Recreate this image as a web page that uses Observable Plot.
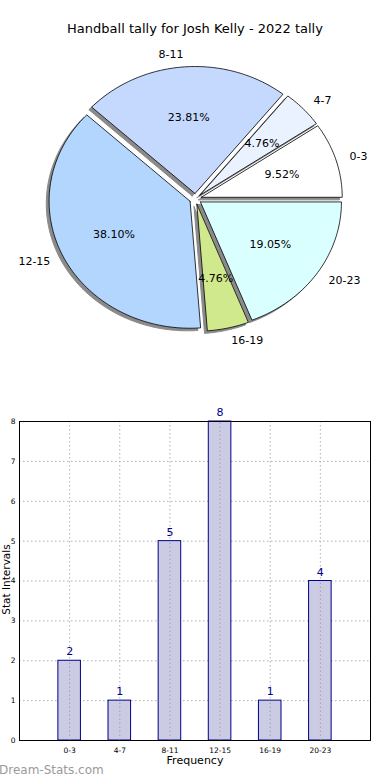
<!DOCTYPE html>
<html>
<head>
<meta charset="utf-8">
<script src="https://cdn.jsdelivr.net/npm/d3@7"></script>
<script src="https://cdn.jsdelivr.net/npm/@observablehq/plot@0.6"></script>
<style>
  html, body { margin: 0; padding: 0; background: #fff; }
  #wrap { position: relative; width: 390px; height: 780px; overflow: hidden; font-family: "DejaVu Sans", sans-serif; }
  .abs { position: absolute; }
  #title { top: 21px; left: 0; width: 390px; text-align: center; font-size: 13px; color: #000; }
  #ylab { left: -39px; top: 574px; width: 90px; line-height: 11px; text-align: center; font-size: 10.5px; transform: rotate(-90deg); white-space: nowrap; }
  #xlab { top: 754px; left: 0; width: 390px; text-align: center; font-size: 11px; }
  #wm { top: 763px; left: -1px; font-size: 12px; color: #9a9a9a; }
</style>
</head>
<body>
<div id="wrap">
  <div id="pie" class="abs" style="top:0;left:0"></div>
  <div id="bar" class="abs" style="top:380px;left:0"></div>
  <div id="title" class="abs">Handball tally for Josh Kelly - 2022 tally</div>
  <div id="ylab" class="abs">Stat Intervals</div>
  <div id="xlab" class="abs">Frequency</div>
  <div id="wm" class="abs">Dream-Stats.com</div>
</div>
<script>
const categories = ["0-3", "4-7", "8-11", "12-15", "16-19", "20-23"];
const counts = [2, 1, 5, 8, 1, 4];
const pieColors = ["#ffffff", "#eaf2ff", "#c5d9ff", "#b3d6ff", "#d0e98c", "#d9ffff"];
const yTicks = [0, 1, 2, 3, 4, 5, 6, 7, 8];

const explode = 0.0425;
const shadowOff = -0.02;
const total = d3.sum(counts);

// Build wedge geometry (unit-pie data coordinates, counterclockwise from east)
let start = 0;
const wedges = counts.map((v, i) => {
  const a0 = start, a1 = start + 360 * v / total;
  start = a1;
  const mid = (a0 + a1) / 2 * Math.PI / 180;
  const cx = explode * Math.cos(mid), cy = explode * Math.sin(mid);
  const pts = [{x: cx, y: cy}];
  const n = Math.max(2, Math.ceil(a1 - a0));
  for (let k = 0; k <= n; k++) {
    const a = (a0 + (a1 - a0) * k / n) * Math.PI / 180;
    pts.push({x: cx + Math.cos(a), y: cy + Math.sin(a)});
  }
  pts.push({x: cx, y: cy});
  return {cat: categories[i], value: v, color: pieColors[i], mid, cx, cy, pts,
          pct: (100 * v / total).toFixed(2) + "%"};
});

const pieMarks = [];
for (const w of wedges) {
  pieMarks.push(Plot.line(w.pts, {x: d => d.x + shadowOff, y: d => d.y + shadowOff,
    fill: "#8a8a8a", stroke: "#8a8a8a", strokeWidth: 1}));
}
for (const w of wedges) {
  pieMarks.push(Plot.line(w.pts, {x: "x", y: "y", fill: w.color, stroke: "#000", strokeWidth: 0.8, strokeLinejoin: "round"}));
}
const labX = d => d.cx + 1.1 * Math.cos(d.mid), labY = d => d.cy + 1.1 * Math.sin(d.mid);
pieMarks.push(Plot.text(wedges.filter(d => Math.cos(d.mid) < 0), {
  x: labX, y: labY, text: "cat", textAnchor: "end", fontSize: 11, fill: "#000"
}));
pieMarks.push(Plot.text(wedges.filter(d => Math.cos(d.mid) >= 0), {
  x: labX, y: labY, text: "cat", textAnchor: "start", fontSize: 11, fill: "#000"
}));
pieMarks.push(Plot.text(wedges, {
  x: d => d.cx + 0.6 * Math.cos(d.mid), y: d => d.cy + 0.6 * Math.sin(d.mid),
  text: "pct", fontSize: 11, fill: "#000"
}));

const pie = Plot.plot({
  width: 390, height: 380, margin: 0,
  x: {domain: [-1, 1], range: [54, 336], axis: null},
  y: {domain: [-1, 1], range: [325.4, 71.4], axis: null},
  style: {fontFamily: "DejaVu Sans, sans-serif", background: "transparent", overflow: "visible"},
  marks: pieMarks
});
document.getElementById("pie").append(pie);

// Bar chart
const bars = categories.map((c, i) => ({i, cat: c, value: counts[i]}));
const bw = 0.45;
const bar = Plot.plot({
  width: 390, height: 400,
  marginTop: 41, marginBottom: 40, marginLeft: 19, marginRight: 20,
  x: {domain: [-1, 6], axis: null},
  y: {domain: [0, 8], axis: null},
  style: {fontFamily: "DejaVu Sans, sans-serif", background: "transparent", overflow: "visible"},
  marks: [
    Plot.ruleX(bars, {x: "i", stroke: "#b0b0b0", strokeWidth: 1, strokeDasharray: "1.5,2.5"}),
    Plot.ruleY(yTicks, {y: d => d, stroke: "#b0b0b0", strokeWidth: 1, strokeDasharray: "1.5,2.5"}),
    Plot.rectY(bars, {x1: d => d.i - bw / 2, x2: d => d.i + bw / 2, y1: 0, y2: "value",
      fill: "#cbcbe3", stroke: "#00008b", strokeWidth: 1}),
    Plot.ruleX(bars, {x: "i", y1: 0, y2: "value", stroke: "#a0a0b8", strokeWidth: 1, strokeDasharray: "1.5,2.5"}),
    Plot.text(bars, {x: "i", y: "value", text: d => String(d.value), dy: -9, fill: "#00008b", fontSize: 11}),
    Plot.frame({stroke: "#000", strokeWidth: 1}),
    Plot.axisY(yTicks, {tickSize: 0, tickPadding: 4, fontSize: 7.5, fill: "#000", label: null}),
    Plot.axisX(bars.map(d => d.i), {tickSize: 0, tickPadding: 7, fontSize: 7.5, tickFormat: i => categories[i], label: null, fill: "#000"})
  ]
});
document.getElementById("bar").append(bar);
</script>
</body>
</html>
